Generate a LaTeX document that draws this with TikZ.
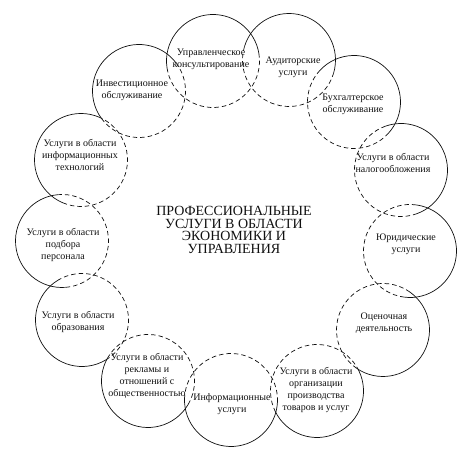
\documentclass[tikz,border=0pt]{standalone}
\usepackage{fontspec}
\setmainfont{Liberation Serif}
\usetikzlibrary{calc}
\definecolor{inkgray}{HTML}{101010}

\tikzset{
  ringsolid/.style={draw=inkgray, line width=0.7pt},
  ringdash/.style={draw=inkgray, line width=0.7pt, dash pattern=on 4.5pt off 3pt},
  servtext/.style={align=center, inner sep=0pt, text=inkgray, font=\fontsize{10}{12}\selectfont},
  titletext/.style={align=center, inner sep=0pt, text=inkgray, font=\fontsize{14}{12.7}\selectfont}
}

\begin{document}
\begin{tikzpicture}[x=1pt, y=1pt]
  \useasboundingbox (0,0) rectangle (467,454);
  % Центр кольца и заголовок
  \coordinate (ring) at (238,227);
  \node[titletext] (title) at (234,224) {ПРОФЕССИОНАЛЬНЫЕ\\УСЛУГИ В ОБЛАСТИ\\ЭКОНОМИКИ И\\УПРАВЛЕНИЯ};
  % Круги услуг: имя / центр круга / подпись / текст
  \foreach \nm/\cx/\cy/\tx/\ty/\txt in {
      upr/213/393/211/394.5/{Управленческое\\консультирование},
      aud/289/394/293/386.5/{Аудиторские\\услуги},
      buh/354/352/353/349.5/{Бухгалтерское\\обслуживание},
      nal/401/284/393/291/{Услуги в области\\налогообложения},
      jur/410/203/406/210/{Юридические\\услуги},
      ocen/383/124/384/131/{Оценочная\\деятельность},
      org/317/63/316/64/{Услуги в области\\организации\\производства\\товаров и услуг},
      inf/231/54/232/50/{Информационные\\услуги},
      rek/148/73/147/78/{Услуги в области\\рекламы и\\отношений с\\общественностью},
      obr/82/134/78/132/{Услуги в области\\образования},
      pod/62/213/63/209/{Услуги в области\\подбора\\персонала},
      it/81/294/80/299/{Услуги в области\\информационных\\технологий},
      inv/139/363/132/364/{Инвестиционное\\обслуживание}%
  }{
    \coordinate (\nm) at (\cx,\cy);
    \pgfmathsetmacro\ang{atan2(\cy-227,\cx-238)}
    % внешняя половина сплошная, внутренняя пунктиром
    \draw[ringsolid] (\nm) ++(\ang-90:46.5) arc[start angle=\ang-90, end angle=\ang+90, radius=46.5];
    \draw[ringdash] (\nm) ++(\ang+90:46.5) arc[start angle=\ang+90, end angle=\ang+270, radius=46.5];
    \node[servtext] (\nm-t) at (\tx,\ty) {\txt};
  }
\end{tikzpicture}
\end{document}
